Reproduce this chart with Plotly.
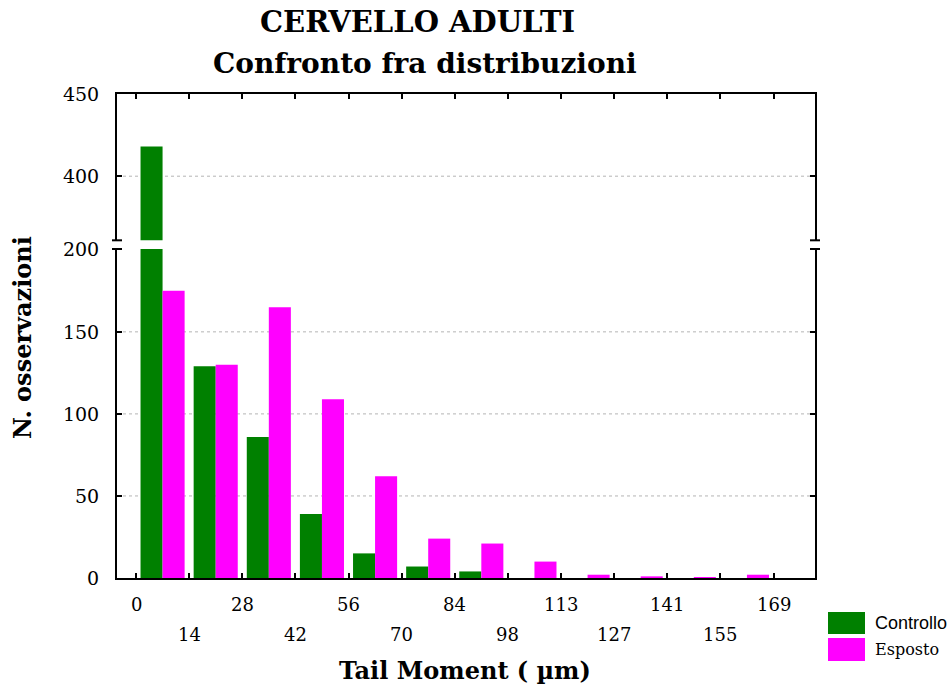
import plotly.graph_objects as go

# Histogram of tail moment, control vs exposed (adult brain)
bin_width = 169 / 12
bin_left = [i * bin_width for i in range(12)]
tick_values = [i * bin_width for i in range(13)]
tick_labels = ["0", "14", "28", "42", "56", "70", "84", "98", "113", "127", "141", "155", "169"]

controllo = [418, 129, 86, 39, 15, 7, 4, 0, 0, 0, 0, 0]
esposto = [175, 130, 165, 109, 62, 24, 21, 10, 2, 1, 0.4, 2]

lower_ticks = [0, 50, 100, 150, 200]
upper_ticks = [400, 450]

GREEN = "#008000"
MAGENTA = "#ff00ff"
SERIF = "DejaVu Serif"

centers = [b + bin_width / 2 for b in bin_left]

fig = go.Figure()
# the same bars are drawn in both panels of the broken axis
for xa, ya in [("x", "y"), ("x2", "y2")]:
    fig.add_bar(x=centers, y=controllo, name="Controllo", marker_color=GREEN,
                marker_line_width=0, xaxis=xa, yaxis=ya, showlegend=False)
    fig.add_bar(x=centers, y=esposto, name="Esposto", marker_color=MAGENTA,
                marker_line_width=0, xaxis=xa, yaxis=ya, showlegend=False)

axis_common = dict(showline=True, linewidth=2, linecolor="black", ticks="inside",
                   ticklen=5, tickwidth=2, tickcolor="black", showgrid=False,
                   zeroline=False)

lower_top = 0.6798
upper_bottom = 0.6977

fig.update_layout(
    width=947, height=686, autosize=False,
    paper_bgcolor="white", plot_bgcolor="white",
    margin=dict(l=117, r=132, t=94, b=108),
    barmode="group", bargap=0.17, bargroupgap=0,
    xaxis=dict(domain=[0, 1], range=[-5.04, 180], anchor="y",
               tickvals=tick_values, showticklabels=False, **axis_common),
    xaxis2=dict(domain=[0, 1], matches="x", anchor="y2", side="top",
                tickvals=tick_values, showticklabels=False, **axis_common),
    yaxis=dict(domain=[0, lower_top], range=[0, 200.5], anchor="x",
               tickvals=lower_ticks, mirror="ticks", ticklabelstandoff=12,
               tickfont=dict(family=SERIF, size=19, color="black"), **axis_common),
    yaxis2=dict(domain=[upper_bottom, 1], range=[361, 450], anchor="x2",
                tickvals=upper_ticks, mirror="ticks", ticklabelstandoff=12,
                tickfont=dict(family=SERIF, size=19, color="black"), **axis_common),
)

shapes = []
# dotted horizontal grid
for v in [50, 100, 150]:
    shapes.append(dict(type="line", xref="paper", yref="y", x0=0, x1=1, y0=v, y1=v,
                       line=dict(color="#b4b4b4", width=1, dash="dot"), layer="below"))
for v in [400]:
    shapes.append(dict(type="line", xref="paper", yref="y2", x0=0, x1=1, y0=v, y1=v,
                       line=dict(color="#b4b4b4", width=1, dash="dot"), layer="below"))
# axis break marks on both vertical axes
for xa in [0, 1]:
    for yb in [lower_top, upper_bottom]:
        shapes.append(dict(type="line", xref="paper", yref="paper", xsizemode="pixel",
                           xanchor=xa, x0=-5, x1=5, y0=yb, y1=yb,
                           line=dict(color="black", width=2)))
# legend swatches
px_w = 947 - 117 - 132
px_h = 686 - 94 - 108


def px_x(p):
    return (p - 117) / px_w


def px_y(p):
    return (578 - p) / px_h


shapes.append(dict(type="rect", xref="paper", yref="paper", x0=px_x(828), x1=px_x(865),
                   y0=px_y(634), y1=px_y(612), fillcolor=GREEN, line=dict(width=0)))
shapes.append(dict(type="rect", xref="paper", yref="paper", x0=px_x(828), x1=px_x(865),
                   y0=px_y(661), y1=px_y(638), fillcolor=MAGENTA, line=dict(width=0)))
fig.update_layout(shapes=shapes)

ann = []
# x tick labels in two staggered rows
for i, (v, t) in enumerate(zip(tick_values, tick_labels)):
    ann.append(dict(x=v, xref="x", y=0, yref="paper", text=t, showarrow=False,
                    xanchor="center", yanchor="middle", yshift=-26 if i % 2 == 0 else -56,
                    font=dict(family=SERIF, size=18, color="black")))

ann.append(dict(x=px_x(417), xref="paper", y=1, yref="paper", yshift=72,
                text="<b>CERVELLO ADULTI</b>", showarrow=False, xanchor="center",
                yanchor="middle", font=dict(family=SERIF, size=29, color="black")))
ann.append(dict(x=px_x(425), xref="paper", y=1, yref="paper", yshift=31,
                text="<b>Confronto fra distribuzioni</b>", showarrow=False,
                xanchor="center", yanchor="middle",
                font=dict(family=SERIF, size=28, color="black")))
ann.append(dict(x=px_x(465), xref="paper", y=0, yref="paper", yshift=-92,
                text="<b>Tail Moment ( µm)</b>", showarrow=False, xanchor="center",
                yanchor="middle", font=dict(family=SERIF, size=24, color="black")))
ann.append(dict(x=0, xref="paper", xshift=-95, y=px_y(338), yref="paper",
                text="<b>N. osservazioni</b>", textangle=-90, showarrow=False,
                xanchor="center", yanchor="middle",
                font=dict(family=SERIF, size=24, color="black")))
ann.append(dict(x=px_x(873), xref="paper", y=px_y(623), yref="paper", text="Controllo",
                showarrow=False, xanchor="left", yanchor="middle",
                font=dict(family="Liberation Sans", size=18, color="black")))
ann.append(dict(x=px_x(873), xref="paper", y=px_y(649), yref="paper", text="Esposto",
                showarrow=False, xanchor="left", yanchor="middle",
                font=dict(family=SERIF, size=16, color="black")))
fig.update_layout(annotations=ann)

fig.write_html("out.html")
